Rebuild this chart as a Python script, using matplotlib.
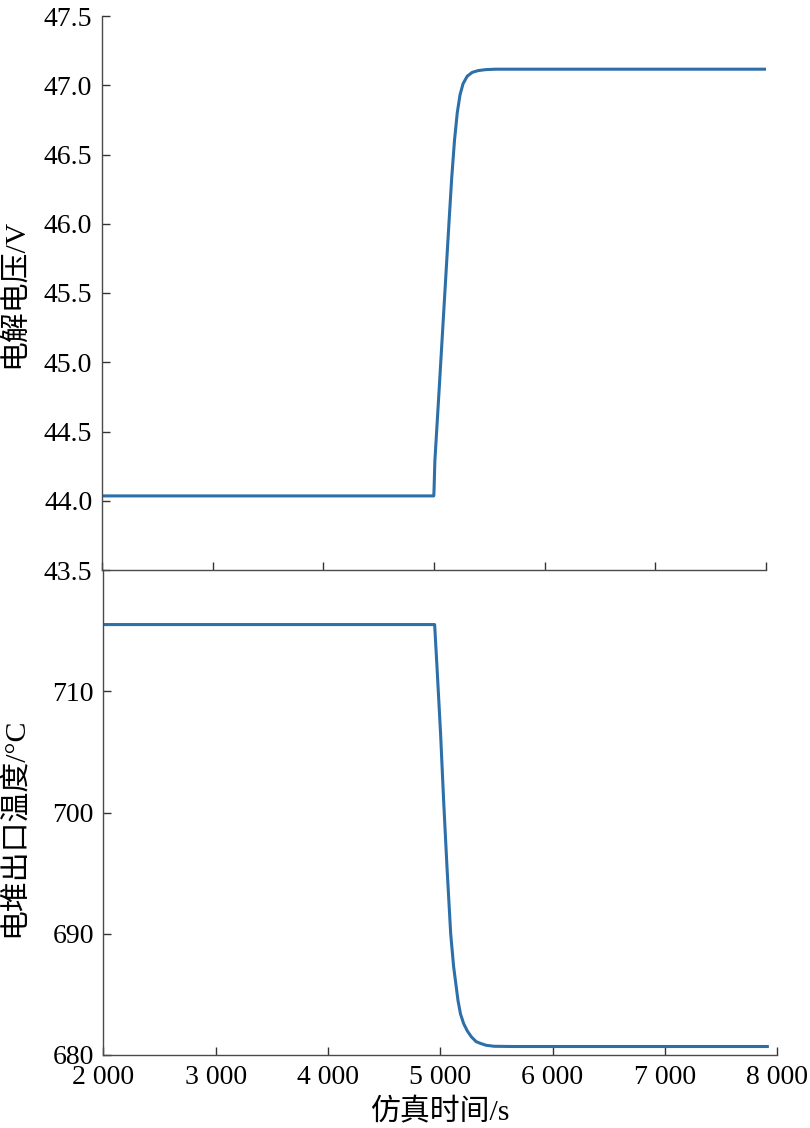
import numpy as np
import matplotlib
matplotlib.use("Agg")
import matplotlib.pyplot as plt
from matplotlib.ticker import FixedLocator, FuncFormatter

plt.rcParams['font.family'] = ['Liberation Serif', 'Noto Sans CJK SC']
plt.rcParams['axes.unicode_minus'] = False

# electrolysis voltage (top panel)
t_volt = [2000, 3400, 4750, 4998, 5000, 5008, 5050, 5092, 5137, 5160, 5185,
          5210, 5235, 5262, 5300, 5345, 5400, 5470, 5560, 6200, 7000, 8000]
volt = [44.035, 44.035, 44.035, 44.035, 44.07, 44.29, 44.85, 45.42, 46.03, 46.33,
        46.60, 46.80, 46.93, 47.01, 47.065, 47.093, 47.106, 47.113, 47.116,
        47.116, 47.116, 47.116]

# stack outlet temperature (bottom panel)
t_temp = [2000, 3400, 4750, 4950, 4971, 5003, 5030, 5060, 5093, 5119, 5158,
          5180, 5208, 5240, 5277, 5320, 5360, 5410, 5480, 5645, 6500, 7500, 7914]
temp = [715.5, 715.5, 715.5, 715.5, 712.0, 706.5, 701.0, 695.5, 690.0, 687.3,
        684.5, 683.4, 682.6, 682.0, 681.5, 681.1, 680.95, 680.8, 680.72, 680.7,
        680.7, 680.7, 680.7]

x_ticks = [2000, 3000, 4000, 5000, 6000, 7000, 8000]
volt_ticks = [43.5, 44.0, 44.5, 45.0, 45.5, 46.0, 46.5, 47.0, 47.5]
temp_ticks = [680, 690, 700, 710]

line_color = '#2c6fa9'
spine_color = '#4a4a4a'
W, H = 810, 1128

fig = plt.figure(figsize=(W / 100, H / 100), dpi=100)

# top axes: 102..766 px wide, 16..570 px tall
ax1 = fig.add_axes([102 / W, 1 - 570 / H, 664 / W, 554 / H])
# bottom axes: 103.5..777 px wide, 570..1055 px tall
ax2 = fig.add_axes([103.5 / W, 1 - 1055 / H, 673.5 / W, 485 / H])

ax1.plot(t_volt, volt, color=line_color, lw=2.2, solid_joinstyle='round')
ax2.plot(t_temp, temp, color=line_color, lw=2.2, solid_joinstyle='round')

ax1.set_xlim(2000, 8000)
ax1.set_ylim(43.5, 47.5)
ax2.set_xlim(2000, 8000)
ax2.set_ylim(680, 720)

ax1.xaxis.set_major_locator(FixedLocator(x_ticks))
ax2.xaxis.set_major_locator(FixedLocator(x_ticks))
ax1.yaxis.set_major_locator(FixedLocator(volt_ticks))
ax2.yaxis.set_major_locator(FixedLocator(temp_ticks))
ax1.yaxis.set_major_formatter(FuncFormatter(lambda v, p: f"{v:.1f}"))
ax2.xaxis.set_major_formatter(FuncFormatter(lambda v, p: f"{int(v) // 1000} {int(v) % 1000:03d}"))
ax1.tick_params(axis='x', labelbottom=False)

for ax in (ax1, ax2):
    ax.spines['top'].set_visible(False)
    ax.spines['right'].set_visible(False)
    for s in ('left', 'bottom'):
        ax.spines[s].set_color(spine_color)
        ax.spines[s].set_linewidth(1.0)
    ax.tick_params(direction='in', length=6, width=1.0, color='#333333',
                   labelsize=20, labelcolor='black')
    ax.tick_params(axis='y', pad=7)
    ax.tick_params(axis='x', pad=7)
    ax.set_facecolor('none')

ax1.set_ylabel('电解电压/V', fontsize=21.5)
ax2.set_ylabel('电堆出口温度/°C', fontsize=21.5)
ax2.set_xlabel('仿真时间/s', fontsize=21.5, labelpad=6)
ax1.yaxis.set_label_coords(-0.1114, 0.5)
ax2.yaxis.set_label_coords(-0.1121, 0.47)

fig.savefig('out.png', dpi=100)
